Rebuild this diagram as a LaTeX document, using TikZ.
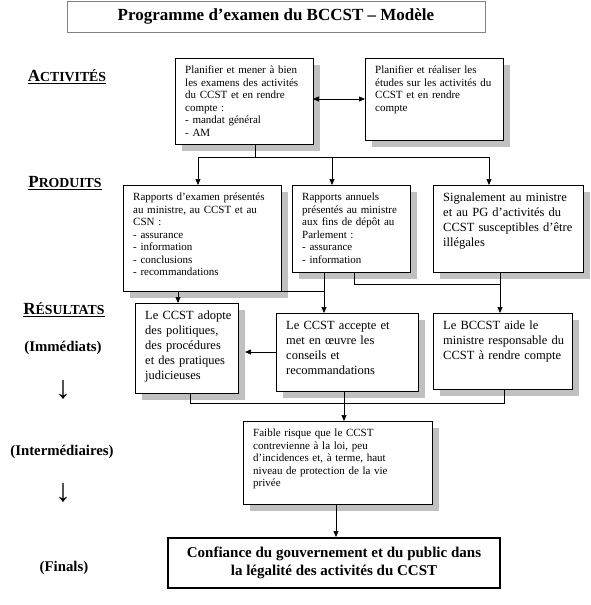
\documentclass[tikz,border=0pt]{standalone}
\usepackage{fontspec}
\setmainfont{Liberation Serif}
\usetikzlibrary{arrows.meta}
\definecolor{shadowc}{RGB}{192,192,192}
\definecolor{titlec}{RGB}{130,130,130}
\tikzset{
  boxs/.style={draw=black, line width=0.8pt, fill=white, inner sep=0pt, outer sep=0pt},
  smalltxt/.style={inner sep=0pt, align=left, text width=200pt, font=\fontsize{11}{12.5}\selectfont},
  bigtxt/.style={inner sep=0pt, align=left, text width=200pt, font=\fontsize{12.5}{15}\selectfont},
  link/.style={line width=0.7pt},
  arr/.style={link, -{Triangle[length=6pt,width=5pt]}},
  dbl/.style={link, {Triangle[length=6pt,width=5pt]}-{Triangle[length=6pt,width=5pt]}},
  sidelbl/.style={inner sep=0pt, font=\fontsize{14.8}{17}\selectfont\bfseries},
  headlbl/.style={inner sep=0pt, font=\bfseries},
  downglyph/.style={inner sep=0pt, font=\fontsize{32}{32}\selectfont},
}
% #1 name, #2 x1, #3 y1, #4 x2, #5 y2, #6 text style, #7 text
\newcommand\shbox[7]{%
  \fill[shadowc] (#2+7,#3+7) rectangle (#4+7,#5+7);
  \node[boxs, minimum width={(#4-#2)*1pt}, minimum height={(#5-#3)*1pt}, anchor=north west] (#1) at (#2,#3) {};
  \node[#6, anchor=north west] (#1t) at ([xshift=10pt,yshift=-8pt]#1.north west) {#7};
}
\begin{document}
\begin{tikzpicture}[x=1pt,y=-1pt]
\useasboundingbox[fill=white] (0,0) rectangle (590,605);

% title
\node[draw=titlec, line width=0.7pt, minimum width=418pt, minimum height=31pt, inner sep=0pt,
      font=\fontsize{17}{20}\selectfont\bfseries] (title) at (276,16.5) {Programme d’examen du BCCST – Modèle};

% left labels
\node[headlbl] (lact) at (67,77) {\underline{\fontsize{17}{17}\selectfont A\fontsize{13.8}{14}\selectfont CTIVITÉS}};
\node[headlbl] (lprod) at (65,183) {\underline{\fontsize{17}{17}\selectfont P\fontsize{13.8}{14}\selectfont RODUITS}};
\node[headlbl] (lres) at (64,310) {\underline{\fontsize{17}{17}\selectfont R\fontsize{13.8}{14}\selectfont ÉSULTATS}};
\node[sidelbl] (limm) at (63,348) {(Immédiats)};
\node[downglyph] (darr1) at (63,390) {↓};
\node[sidelbl] (lint) at (62,452) {(Intermédiaires)};
\node[downglyph] (darr2) at (63,493) {↓};
\node[sidelbl] (lfin) at (64,568) {(Finals)};

% boxes
\shbox{a1}{175}{58}{313}{144}{smalltxt}{Planifier et mener à bien\\les examens des activités\\du CCST et en rendre\\compte :\\- mandat général\\- AM}
\shbox{a2}{365}{58}{503}{140}{smalltxt}{Planifier et réaliser les\\études sur les activités du\\CCST et en rendre\\compte}
\shbox{p1}{123}{185}{281}{291}{smalltxt}{Rapports d’examen présentés\\au ministre, au CCST et au\\CSN :\\- assurance\\- information\\- conclusions\\- recommandations}
\shbox{p2}{292}{185}{410}{272}{smalltxt}{Rapports annuels\\présentés au ministre\\aux fins de dépôt au\\Parlement :\\- assurance\\- information}
\shbox{p3}{433}{185}{583}{272}{bigtxt}{Signalement au ministre\\et au PG d’activités du\\CCST susceptibles d’être\\illégales}
\shbox{r1}{135}{303}{238}{393}{bigtxt}{Le CCST adopte\\des politiques,\\des procédures\\et des pratiques\\judicieuses}
\shbox{r2}{276}{313}{418}{391}{bigtxt}{Le CCST accepte et\\met en œuvre les\\conseils et\\recommandations}
\shbox{r3}{433}{313}{572}{389}{bigtxt}{Le BCCST aide le\\ministre responsable du\\CCST à rendre compte}
\shbox{im}{243}{421}{432}{504}{smalltxt}{Faible risque que le CCST\\contrevienne à la loi, peu\\d’incidences et, à terme, haut\\niveau de protection de la vie\\privée}

\node[draw=black, line width=2pt, minimum width=332pt, minimum height=50pt, inner sep=0pt, align=center,
      font=\fontsize{15}{18}\selectfont\bfseries] (fin) at (334,563)
      {Confiance du gouvernement et du public dans\\la légalité des activités du CCST};

% connectors
\coordinate (ja) at (255,157);
\coordinate (b1) at (198,157);
\coordinate (b2) at (332,157);
\coordinate (b3) at (489,157);
\draw[dbl] (a1.east |- a2.west) -- (a2.west);
\draw[link] (ja |- a1.south) -- (ja);
\draw[link] (b1) -- (b3);
\draw[arr] (b1) -- (b1 |- p1.north);
\draw[arr] (b2) -- (b2 |- p2.north);
\draw[arr] (b3) -- (b3 |- p3.north);

\coordinate (v178) at (178,0);
\coordinate (v324) at (324,0);
\coordinate (k2) at (354,284);
\coordinate (v500) at (500,0);
\draw[arr] (v178 |- p1.south) -- (v178 |- r1.north);
\draw[link] (p1.south east) -- (v324 |- p1.south east);
\draw[arr] (v324 |- p2.south) -- (v324 |- r2.north);
\draw[link] (k2 |- p2.south) -- (k2) -- (v500 |- k2);
\draw[arr] (v500 |- p3.south) -- (v500 |- r3.north);

\coordinate (r1e) at ([xshift=7pt]r1.east);
\draw[arr] (r2.west) -- (r1e |- r2.west);

\coordinate (v190) at (190,0);
\coordinate (v504) at (504,0);
\coordinate (m) at (0,403);
\coordinate (v344) at (344,0);
\coordinate (v336) at (336,0);
\draw[link] (v190 |- r1.south) |- (v504 |- m) -- (v504 |- r3.south);
\draw[arr] (v344 |- r2.south) -- (v344 |- im.north);
\draw[arr] (v336 |- im.south) -- (v336 |- fin.north);
\end{tikzpicture}
\end{document}
